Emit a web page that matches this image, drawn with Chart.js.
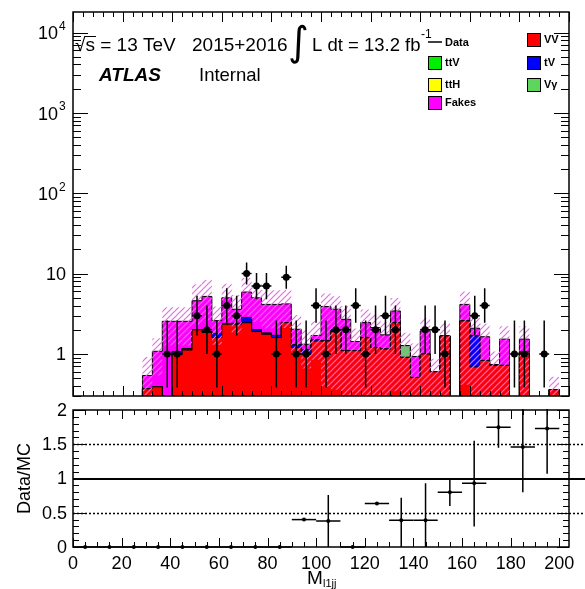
<!DOCTYPE html>
<html>
<head>
<meta charset="utf-8">
<script src="https://cdn.jsdelivr.net/npm/chart.js@4"></script>
<style>
  body { margin: 0; background: #fff; width: 585px; height: 589px; position: relative; overflow: hidden; }
  canvas { position: absolute; left: 0; }
  #main { top: 0; }
  #ratio { top: 400px; }
</style>
</head>
<body>
<canvas id="main" width="585" height="400"></canvas>
<canvas id="ratio" width="585" height="189"></canvas>
<script>
// bins of M_l1jj (4 GeV wide), low edges
const binLow = [0,4,8,12,16,20,24,28,32,36,40,44,48,52,56,60,64,68,72,76,80,84,88,92,96,
                100,104,108,112,116,120,124,128,132,136,140,144,148,152,156,160,164,168,172,176,180,184,188,192,196];
const binWidth = 4;

// MC components (events per bin)
const vv     = [0,0,0,0,0,0,0,0.37,0.39,0,0.98,1.12,2.0,1.85,1.6,2.35,2.35,2.45,1.9,1.76,1.6,2.45,1.2,1.0,1.45,
                1.45,1.9,1.1,1.1,1.6,1.2,1.15,2.45,0.91,0.51,1.0,0.6,1.68,0,2.58,0.69,0.83,0.72,0.72,0,1.05,0,0,0.36,0];
const tV     = [0,0,0,0,0,0,0,0,0,0,0.09,0.05,0,0.05,0.2,0,0.05,0.38,0.1,0.05,0.1,0,0.1,0.12,0.05,
                0,0.1,0,0,0,0,0,0,0,0,0,0,0,0,0,0.99,0,0.02,0,0,0,0,0,0,0];
const vGamma = [0,0,0,0,0,0,0,0,0,0,0,0,0,0,0,0,0,0,0,0,0,0,0,0,0,
                0,0,0,0,0,0,0,0,0.36,0,0,0,0,0,0,0,0,0,0,0,0,0,0,0,0];
const ttV    = [0,0,0,0,0,0,0,0,0,0,0,0,0,0,0,0,0,0,0,0,0,0,0,0,0,
                0,0,0,0,0,0,0,0,0,0,0,0,0,0,0,0,0,0,0,0,0,0,0,0,0];
const ttH    = [0,0,0,0,0,0,0,0,0,0,0,0,0,0,0,0,0,0,0,0,0,0,0,0,0,
                0,0,0,0,0,0,0,0,0,0,0,0,0,0,0,0,0,0,0,0,0,0,0,0,0];
const fakes  = [0,0,0,0,0,0,0,0.17,0.69,2.55,1.48,1.38,2.6,3.3,0.8,2.65,1.2,3.07,3.0,2.33,2.44,1.75,0.73,0.2,0.2,
                2.45,1.6,1.6,0.33,0.86,0.93,0.58,0.98,0,0.42,0.94,0,0,0,1.56,0.41,0.81,0,0.81,0,0.48,0,0,0,0];

// relative uncertainty of the total MC (up / down)
const bandUp = [0,0,0,0,0,0,0,0.7,0.45,0.5,0.5,0.5,0.6,0.6,0.5,0.5,0.5,0.5,0.5,0.5,0.5,0.5,0.5,0.5,0.5,
                0.45,0.45,0.45,0.45,0.45,0.45,0.45,0.45,0.45,0.45,0.45,0.45,0.45,0,0.45,0.45,0.45,0.45,0.45,0,0.45,0,0,0.45,0];
const bandDn = [0,0,0,0,0,0,0,0.5,0.5,0.5,0.5,0.5,0.5,0.5,0.5,0.5,0.5,0.5,0.5,0.5,0.5,0.5,0.5,0.5,0.5,
                0.9,0.9,0.9,0.9,0.9,0.9,0.9,0.9,0.9,0.9,0.9,0.9,0.9,0,0.9,0.9,0.9,0.9,0.9,0,0.9,0,0,0.9,0];

// observed events
const dataCounts = [0,0,0,0,0,0,0,0,0,1,1,0,3,2,1,4,3,10,7,7,1,9,1,1,4,
                    1,2,2,4,1,2,3,2,0,0,2,2,1,0,0,3,4,0,0,1,1,0,1,0,0];

// ratio panel (10 GeV bins)
const ratioX     = [5,15,25,35,45,55,65,75,85,95,105,115,125,135,145,155,165,175,185,195];
const ratioVal   = [0,0,0,0,0,0,0,0,0,0.40,0.38,0,0.635,0.39,0.39,0.80,0.93,1.75,1.46,1.73];
const ratioErrUp = [0,0,0,0,0,0,0,0,0,0.01,0.38,0,0.01,0.33,0.54,0.20,0.62,0.60,0.80,0.60];
const ratioErrDn = [0,0,0,0,0,0,0,0,0,0.01,0.38,0,0.01,0.39,0.39,0.20,0.63,0.30,0.66,0.66];

const mainYTicks = [1, 10, 100, 1000, 10000];
const ratioYTicks = [0, 0.5, 1, 1.5, 2];
const ratioXTicks = [0, 20, 40, 60, 80, 100, 120, 140, 160, 180, 200];

const FONT = '"Liberation Sans", Arial, sans-serif';
const colors = { vv: '#ff0000', tV: '#0000ff', vGamma: '#5cd65c', ttV: '#00ee00', ttH: '#ffff00', fakes: '#ff00ff' };

// cumulative stack, bottom to top
const layers = [vv, tV, vGamma, ttV, ttH, fakes];
const layerColors = [colors.vv, colors.tV, colors.vGamma, colors.ttV, colors.ttH, colors.fakes];
const cum = [];
let run = binLow.map(() => 0);
layers.forEach(l => { run = run.map((v, i) => v + l[i]); cum.push(run); });
const total = cum[cum.length - 1];

function steps(vals) {
  const pts = binLow.map((x, i) => ({ x: x, y: vals[i] > 0 ? vals[i] : 1e-3 }));
  pts.push({ x: binLow[binLow.length - 1] + binWidth, y: pts[pts.length - 1].y });
  return pts;
}

const hatchPattern = (function () {
  const c = document.createElement('canvas');
  c.width = 6; c.height = 6;
  const g = c.getContext('2d');
  g.strokeStyle = 'rgb(228,110,228)';
  g.lineWidth = 1.2;
  g.beginPath();
  g.moveTo(0, 6); g.lineTo(6, 0);
  g.moveTo(-1, 1); g.lineTo(1, -1);
  g.moveTo(5, 7); g.lineTo(7, 5);
  g.stroke();
  return g.createPattern(c, 'repeat');
})();

// first dataset is drawn on top, so the bottom layer (VV) comes first
const stackSets = cum.map((vals, i) => ({
  data: steps(vals),
  stepped: true,
  borderColor: '#000',
  borderWidth: 1,
  backgroundColor: layerColors[i],
  fill: 'start',
  pointRadius: 0
}));

const dataPoints = [];
dataCounts.forEach((n, i) => { if (n > 0) dataPoints.push({ x: binLow[i] + binWidth / 2, y: n }); });

function drawBox(ctx, x, y, w, h, col) {
  ctx.fillStyle = col; ctx.fillRect(x, y, w, h);
  ctx.strokeStyle = '#000'; ctx.lineWidth = 1; ctx.strokeRect(x + 0.5, y + 0.5, w, h);
}

const mainDecor = {
  id: 'mainDecor',
  afterDatasetsDraw(chart) {
    const { ctx, chartArea: a, scales: { x, y } } = chart;
    ctx.save();
    ctx.beginPath(); ctx.rect(a.left, a.top, a.right - a.left, a.bottom - a.top); ctx.clip();
    ctx.strokeStyle = '#000'; ctx.lineWidth = 1.5;
    dataCounts.forEach((n, i) => {
      if (!n) return;
      const cx = x.getPixelForValue(binLow[i] + binWidth / 2);
      const s = Math.sqrt(n + 0.25);
      const lo = n + 0.5 - s;
      ctx.beginPath();
      ctx.moveTo(cx, y.getPixelForValue(n + 0.5 + s));
      ctx.lineTo(cx, lo > 0 ? y.getPixelForValue(lo) : a.bottom);
      const py = y.getPixelForValue(n);
      ctx.moveTo(x.getPixelForValue(binLow[i]), py);
      ctx.lineTo(x.getPixelForValue(binLow[i] + binWidth), py);
      ctx.stroke();
    });
    ctx.restore();
  },
  afterDraw(chart) {
    const { ctx, chartArea: a, scales: { x, y } } = chart;
    ctx.save();
    ctx.strokeStyle = '#000';
    ctx.lineWidth = 1.5;
    ctx.strokeRect(a.left, a.top, a.right - a.left, a.bottom - a.top);
    ctx.lineWidth = 1;
    ctx.beginPath();
    for (let v = 0; v <= 200; v += 4) {
      const px = Math.round(x.getPixelForValue(v)) + 0.5;
      const len = v % 20 === 0 ? 10 : 5;
      ctx.moveTo(px, a.bottom); ctx.lineTo(px, a.bottom - len);
      ctx.moveTo(px, a.top); ctx.lineTo(px, a.top + len);
    }
    for (let d = -1; d <= 4; d++) {
      for (let m = 1; m <= 9; m++) {
        const v = m * Math.pow(10, d);
        if (v < y.min || v > y.max) continue;
        const py = Math.round(y.getPixelForValue(v)) + 0.5;
        const len = m === 1 ? 15 : 8;
        ctx.moveTo(a.left, py); ctx.lineTo(a.left + len, py);
        ctx.moveTo(a.right, py); ctx.lineTo(a.right - len, py);
      }
    }
    ctx.stroke();

    // y tick labels
    ctx.fillStyle = '#000';
    ctx.textBaseline = 'middle';
    mainYTicks.forEach(v => {
      const py = y.getPixelForValue(v);
      const exp = Math.round(Math.log10(v));
      ctx.textAlign = 'right';
      ctx.font = '18px ' + FONT;
      if (exp <= 1) {
        ctx.fillText(String(v), 66, py + 1);
      } else {
        ctx.fillText('10', 58, py + 2);
        ctx.textAlign = 'left';
        ctx.font = '12px ' + FONT;
        ctx.fillText(String(exp), 59, py - 6);
      }
    });

    // labels
    ctx.textAlign = 'left';
    ctx.textBaseline = 'alphabetic';
    ctx.font = '19px ' + FONT;
    ctx.fillText('\u221As = 13 TeV', 75, 51);
    const wr = ctx.measureText('\u221A').width;
    const ws = ctx.measureText('s').width;
    ctx.beginPath(); ctx.lineWidth = 1;
    ctx.moveTo(75 + wr - 1, 36.5); ctx.lineTo(75 + wr + ws + 1, 36.5); ctx.stroke();
    ctx.fillText('2015+2016', 192, 51);
    ctx.font = '40px "DejaVu Sans"';
    ctx.fillText('\u222B', 288, 55);
    ctx.font = '18.5px ' + FONT;
    ctx.fillText('L dt = 13.2 fb', 312, 51);
    ctx.font = '12px ' + FONT;
    ctx.fillText('-1', 421, 38);
    ctx.font = 'italic bold 19px ' + FONT;
    ctx.fillText('ATLAS', 99, 81);
    ctx.font = '18.5px ' + FONT;
    ctx.fillText('Internal', 199, 81);

    // legend
    ctx.font = 'bold 11px ' + FONT;
    ctx.textBaseline = 'middle';
    ctx.beginPath(); ctx.lineWidth = 1.5;
    ctx.moveTo(428, 42); ctx.lineTo(442, 42); ctx.stroke();
    ctx.fillStyle = '#000'; ctx.fillText('Data', 445, 43);
    const leg = [
      ['ttV', colors.ttV, 428, 56], ['ttH', colors.ttH, 428, 78], ['Fakes', colors.fakes, 428, 96],
      ['VV', colors.vv, 527, 33], ['tV', colors.tV, 527, 56], ['V\u03B3', colors.vGamma, 527, 78]
    ];
    leg.forEach(([t, c, lx, ly]) => {
      drawBox(ctx, lx, ly, 13, 13, c);
      ctx.fillStyle = '#000';
      ctx.fillText(t, lx + 17, ly + 7);
    });
    ctx.restore();
  }
};

new Chart(document.getElementById('main'), {
  type: 'line',
  data: {
    datasets: [
      {
        label: 'Data',
        data: dataPoints,
        showLine: false,
        pointRadius: 3.5,
        pointBackgroundColor: '#000',
        pointBorderColor: '#000',
        pointBorderWidth: 0
      },
      {
        label: 'Uncertainty',
        data: steps(total.map((t, i) => t * (1 + bandUp[i]))),
        stepped: true,
        borderWidth: 0,
        borderColor: 'rgba(0,0,0,0)',
        backgroundColor: () => hatchPattern,
        fill: 2,
        pointRadius: 0
      },
      {
        label: 'UncertaintyLow',
        data: steps(total.map((t, i) => t * (1 - bandDn[i]))),
        stepped: true,
        borderWidth: 0,
        borderColor: 'rgba(0,0,0,0)',
        fill: false,
        pointRadius: 0
      },
      ...stackSets
    ]
  },
  options: {
    responsive: false,
    animation: false,
    layout: { padding: { left: 73, right: 16, top: 12, bottom: 3 } },
    plugins: { legend: { display: false }, tooltip: { enabled: false } },
    scales: {
      x: { type: 'linear', min: 0, max: 200, display: false },
      y: { type: 'logarithmic', min: 0.32, max: 18000, display: false }
    }
  },
  plugins: [mainDecor]
});

// ---------- ratio panel ----------
const ratioDecor = {
  id: 'ratioDecor',
  beforeDatasetsDraw(chart) {
    const { ctx, chartArea: a, scales: { y } } = chart;
    ctx.save();
    ctx.strokeStyle = '#000';
    ctx.lineWidth = 1.5;
    ctx.setLineDash([2, 2]);
    [0.5, 1.5].forEach(v => {
      const py = Math.round(y.getPixelForValue(v)) + 0.5;
      ctx.beginPath(); ctx.moveTo(a.left, py); ctx.lineTo(chart.width, py); ctx.stroke();
    });
    ctx.setLineDash([]);
    ctx.lineWidth = 2;
    const p1 = Math.round(y.getPixelForValue(1));
    ctx.beginPath(); ctx.moveTo(a.left, p1); ctx.lineTo(chart.width, p1); ctx.stroke();
    ctx.restore();
  },
  afterDatasetsDraw(chart) {
    const { ctx, chartArea: a, scales: { x, y } } = chart;
    ctx.save();
    ctx.beginPath(); ctx.rect(a.left, a.top - 1, a.right - a.left, a.bottom - a.top + 2); ctx.clip();
    ctx.strokeStyle = '#000'; ctx.lineWidth = 1.5;
    ratioX.forEach((cx, i) => {
      const v = ratioVal[i];
      const px = x.getPixelForValue(cx);
      const py = y.getPixelForValue(v);
      ctx.beginPath();
      ctx.moveTo(x.getPixelForValue(cx - 5), py); ctx.lineTo(x.getPixelForValue(cx + 5), py);
      if (ratioErrUp[i] + ratioErrDn[i] > 0.05) {
        ctx.moveTo(px, y.getPixelForValue(v + ratioErrUp[i]));
        ctx.lineTo(px, y.getPixelForValue(Math.max(v - ratioErrDn[i], 0)));
      }
      ctx.stroke();
    });
    ctx.restore();
  },
  afterDraw(chart) {
    const { ctx, chartArea: a, scales: { x, y } } = chart;
    ctx.save();
    ctx.strokeStyle = '#000';
    ctx.lineWidth = 1.5;
    ctx.strokeRect(a.left, a.top, a.right - a.left, a.bottom - a.top);
    ctx.lineWidth = 1;
    ctx.beginPath();
    for (let v = 0; v <= 204; v += 5) {
      const px = Math.round(x.getPixelForValue(v)) + 0.5;
      const len = v % 20 === 0 ? 9 : 5;
      ctx.moveTo(px, a.bottom); ctx.lineTo(px, a.bottom - len);
      ctx.moveTo(px, a.top); ctx.lineTo(px, a.top + len);
    }
    for (let k = 0; k <= 20; k++) {
      const v = k / 10;
      const py = Math.round(y.getPixelForValue(v)) + 0.5;
      const len = k % 5 === 0 ? 12 : 6;
      ctx.moveTo(a.left, py); ctx.lineTo(a.left + len, py);
      ctx.moveTo(a.right, py); ctx.lineTo(a.right - len, py);
    }
    ctx.stroke();

    ctx.fillStyle = '#000';
    ctx.font = '18px ' + FONT;
    ctx.textAlign = 'right';
    ctx.textBaseline = 'middle';
    ratioYTicks.forEach(v => ctx.fillText(String(v), 67, y.getPixelForValue(v) + 1));
    ctx.textAlign = 'center';
    ratioXTicks.forEach(v => ctx.fillText(String(v), x.getPixelForValue(v), a.bottom + 17));

    // axis titles
    ctx.save();
    ctx.translate(25, y.getPixelForValue(1));
    ctx.rotate(-Math.PI / 2);
    ctx.textAlign = 'center';
    ctx.fillText('Data/MC', 0, 0);
    ctx.restore();
    ctx.textAlign = 'left';
    ctx.textBaseline = 'alphabetic';
    ctx.font = '19px ' + FONT;
    ctx.fillText('M', 307, 184);
    ctx.font = '11px ' + FONT;
    ctx.fillText('l1jj', 323, 187);
    ctx.restore();
  }
};

new Chart(document.getElementById('ratio'), {
  type: 'line',
  data: {
    datasets: [{
      label: 'Data/MC',
      data: ratioX.map((cx, i) => ({ x: cx, y: ratioVal[i] })),
      showLine: false,
      pointRadius: 2,
      pointBackgroundColor: '#000',
      pointBorderWidth: 0,
      clip: false
    }]
  },
  options: {
    responsive: false,
    animation: false,
    layout: { padding: { left: 73, right: 16, top: 10, bottom: 42 } },
    plugins: { legend: { display: false }, tooltip: { enabled: false } },
    scales: {
      x: { type: 'linear', min: 0, max: 204, display: false },
      y: { type: 'linear', min: 0, max: 2, display: false }
    }
  },
  plugins: [ratioDecor]
});
</script>
</body>
</html>
